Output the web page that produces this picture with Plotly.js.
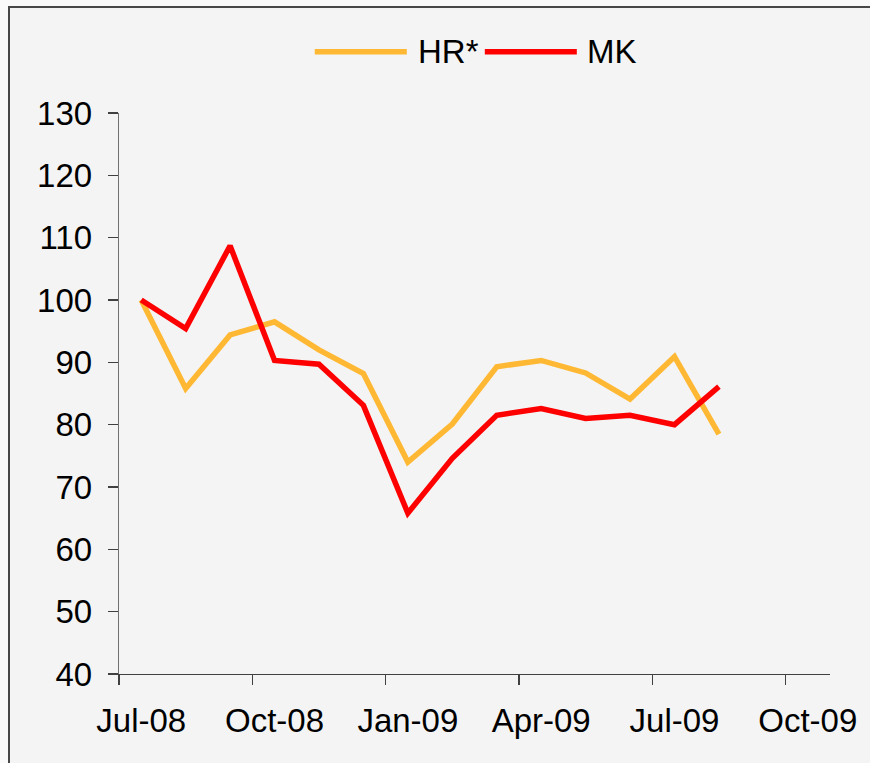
<!DOCTYPE html>
<html>
<head>
<meta charset="utf-8">
<script src="https://cdn.plot.ly/plotly-3.0.1.min.js"></script>
<style>
  html, body { margin: 0; padding: 0; background: #fafafa; overflow: hidden; width: 870px; height: 763px; }
  #frame { position: absolute; left: 8px; top: 6px; width: 900px; height: 800px; border: 2px solid #484848; background: #f4f4f4; }
  #chart { position: absolute; left: 0; top: 0; width: 870px; height: 763px; }
</style>
</head>
<body>
<div id="frame"></div>
<div id="chart"></div>
<script>
// Month categories on the x axis (Jul-08 .. Oct-09)
const months = ["Jul-08","Aug-08","Sep-08","Oct-08","Nov-08","Dec-08",
                "Jan-09","Feb-09","Mar-09","Apr-09","May-09","Jun-09",
                "Jul-09","Aug-09","Sep-09","Oct-09"];
// Labelled ticks
const tickLabels = ["Jul-08","Oct-08","Jan-09","Apr-09","Jul-09","Oct-09"];
// Series
const seriesNames = ["HR*", "MK"];
const hrValues = [100, 85.8, 94.4, 96.5, 92.0, 88.2, 74.0, 80.1, 89.3, 90.3, 88.3, 84.1, 90.9, 78.5];
const mkValues = [100, 95.4, 108.7, 90.3, 89.7, 83.1, 65.8, 74.6, 81.5, 82.6, 81.0, 81.5, 80.0, 86.1];
const yTicks = [40, 50, 60, 70, 80, 90, 100, 110, 120, 130];

const colors = ["#FFB833", "#FF0000"];
const FONT = "Liberation Sans, Arial, sans-serif";

const xIdx = months.map((m, i) => i);
const labelVals = tickLabels.map(l => months.indexOf(l));
const boundaryVals = labelVals.map(v => v - 0.5);

const traces = [
  { x: xIdx.slice(0, hrValues.length), y: hrValues, name: seriesNames[0], type: "scatter", mode: "lines",
    line: { color: colors[0], width: 5.5 }, showlegend: false, hoverinfo: "x+y" },
  { x: xIdx.slice(0, mkValues.length), y: mkValues, name: seriesNames[1], type: "scatter", mode: "lines",
    line: { color: colors[1], width: 5.5 }, showlegend: false, hoverinfo: "x+y" }
];

const xr = [-0.5, months.length - 0.5];

// Custom legend (long keys as in the reference)
const legY = 1.109;
const legendKeys = [
  { x0: 0.2753, x1: 0.4048, tx: 0.4174 },
  { x0: 0.5145, x1: 0.6439, tx: 0.6552 }
];
const shapes = legendKeys.map((k, i) => ({
  type: "line", xref: "paper", yref: "paper", x0: k.x0, x1: k.x1, y0: legY, y1: legY,
  line: { color: colors[i], width: 5.5 }
}));
const annotations = legendKeys.map((k, i) => ({
  xref: "paper", yref: "paper", x: k.tx, y: legY, xanchor: "left", yanchor: "middle",
  text: seriesNames[i], showarrow: false, font: { family: FONT, size: 33, color: "#000" }
}));

const layout = {
  width: 870, height: 763,
  margin: { l: 119, r: 40, t: 113, b: 89, pad: 0 },
  paper_bgcolor: "rgba(0,0,0,0)",
  plot_bgcolor: "rgba(0,0,0,0)",
  font: { family: FONT, size: 33, color: "#000" },
  showlegend: false,
  xaxis: {
    type: "linear", range: xr,
    tickmode: "array", tickvals: labelVals, ticktext: tickLabels,
    ticks: "", showgrid: false, zeroline: false,
    showline: true, linecolor: "#404040", linewidth: 1.3,
    tickfont: { family: FONT, size: 33, color: "#000" },
    ticklabelstandoff: 17
  },
  xaxis2: {
    type: "linear", range: xr, overlaying: "x", anchor: "y", side: "bottom",
    tickmode: "array", tickvals: boundaryVals, showticklabels: false,
    ticks: "outside", ticklen: 10, tickwidth: 1.3, tickcolor: "#404040",
    showgrid: false, zeroline: false, showline: false
  },
  yaxis: {
    range: [40, 130], tickmode: "array", tickvals: yTicks,
    ticks: "outside", ticklen: 10, tickwidth: 1.3, tickcolor: "#404040",
    showgrid: false, zeroline: false,
    showline: true, linecolor: "#707070", linewidth: 1.3,
    tickfont: { family: FONT, size: 33, color: "#000" },
    ticklabelstandoff: 9
  },
  shapes: shapes,
  annotations: annotations
};

// dummy trace so the boundary-tick axis renders
traces.push({ x: [xr[0]], y: [null], xaxis: "x2", type: "scatter", mode: "lines", showlegend: false, hoverinfo: "skip" });

Plotly.newPlot("chart", traces, layout, { displayModeBar: false, staticPlot: true });
</script>
</body>
</html>
